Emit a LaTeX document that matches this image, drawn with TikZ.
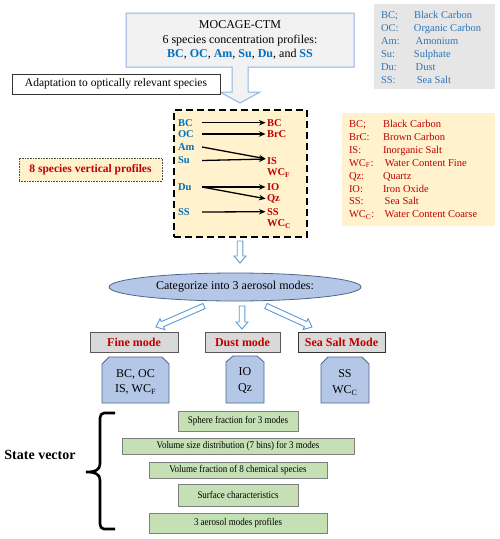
\documentclass[tikz,border=0pt]{standalone}
\usepackage{fontspec}
\setmainfont{Liberation Serif}
\newfontfamily\condfont[FakeStretch=0.88]{Liberation Serif}
\usetikzlibrary{arrows.meta,calc,shapes.geometric}
\definecolor{tblue}{HTML}{0070C0}
\definecolor{lblue}{HTML}{2E75B6}
\definecolor{tred}{HTML}{C00000}
\definecolor{cream}{HTML}{FFF2CC}
\definecolor{gfill}{HTML}{F2F2F2}
\definecolor{gborder}{HTML}{8EB4E3}
\definecolor{legray}{HTML}{E7E6E6}
\definecolor{modefill}{HTML}{B4C7E7}
\definecolor{modedraw}{HTML}{4A6790}
\definecolor{arrowblue}{HTML}{5B9BD5}
\definecolor{greenfill}{HTML}{C5E0B4}
\definecolor{greendraw}{HTML}{7F7F7F}
\definecolor{boxgray}{HTML}{D9D9D9}
\newcommand\spb[1]{\textcolor{tblue}{\textbf{#1}}}
\newcommand\hollowarrow[2]{%
  \path[draw=arrowblue,fill=white,line width=0.9pt,line join=miter]
    let \p1=(#1), \p2=(#2),
        \n1={atan2(\y2-\y1,\x2-\x1)},
        \n2={veclen(\x2-\x1,\y2-\y1)} in
    {[shift={(\p1)},rotate=\n1]
     (0pt,-2.8pt) -- (\n2-7pt,-2.8pt) -- (\n2-7pt,-6pt) -- (\n2,0pt)
     -- (\n2-7pt,6pt) -- (\n2-7pt,2.8pt) -- (0pt,2.8pt) -- cycle};}
\begin{document}
\begin{tikzpicture}[x=1pt,y=-1pt,
  every node/.style={inner sep=0pt, outer sep=0pt},
  blab/.style={anchor=west, text=tblue, font=\fontsize{10.5}{12}\selectfont\bfseries, text width=24pt},
  rlab/.style={anchor=west, text=tred, font=\fontsize{10.5}{12}\selectfont\bfseries},
  sparrow/.style={line width=1.3pt, -{Stealth[length=6.5pt,width=5.5pt]}, shorten >=1.5pt},
  modebox/.style={draw=gray!70!black, fill=boxgray, line width=0.8pt, minimum width=#1, minimum height=20pt, text=tred, font=\fontsize{12}{14}\selectfont\bfseries},
  greenbox/.style={draw=greendraw, fill=greenfill, line width=0.6pt, minimum width=#1, font=\condfont\fontsize{10.2}{11}\selectfont},
  snip/.style={draw=modedraw, fill=modefill, line width=0.8pt},
  sniptext/.style={align=center, font=\fontsize{12}{15.5}\selectfont}
]
\useasboundingbox (0,0) rectangle (500,539);

% MOCAGE callout
\draw[draw=gborder, fill=gfill, line width=1pt, line join=miter]
  (126,13) -- (354,13) -- (354,67) -- (248,67) -- (248,92) -- (260,92) -- (240,103)
  -- (220,92) -- (232,92) -- (232,67) -- (126,67) -- cycle;
\node[align=center, font=\fontsize{12}{14.5}\selectfont] (moc) at (240,40)
  {MOCAGE-CTM\\6 species concentration profiles:\\
   \spb{BC}, \spb{OC}, \spb{Am}, \spb{Su}, \spb{Du}, and \spb{SS}};

% gray legend
\fill[legray] (374,4) rectangle (495,89);
\node[anchor=north west, text=lblue, font=\fontsize{10.5}{13}\selectfont] (leg1) at (381,9)
  {\begin{tabular}{@{}p{33pt}@{}l@{}}
   BC; & Black Carbon\\
   OC: & Organic Carbon\\
   Am: & \,Amonium\\
   Su: & Sulphate\\
   Du: & \,Dust\\
   SS: & \;Sea Salt
   \end{tabular}};

% adaptation
\node[draw=black!80, fill=white, line width=0.8pt, minimum width=208pt, minimum height=20pt,
      font=\fontsize{11.5}{13}\selectfont] (adapt) at (116,84) {Adaptation to optically relevant species};

% right legend
\fill[cream] (342,113) rectangle (495,226);
\node[anchor=north west, text=tred, font=\fontsize{10.5}{12.9}\selectfont] (leg2) at (349,118.5)
  {\begin{tabular}{@{}p{34pt}@{}l@{}}
   BC; & Black Carbon\\
   BrC: & Brown Carbon\\
   IS: & Inorganic Salt\\
   WC\textsubscript{F}: & \,Water Content Fine\\
   Qz: & Quartz\\
   IO: & Iron Oxide\\
   SS: & \,Sea Salt\\
   WC\textsubscript{C}: & \,Water Content Coarse
   \end{tabular}};

% dashed species box
\node[draw=black, fill=cream, line width=2.5pt, dash pattern=on 7pt off 4pt,
      minimum width=133pt, minimum height=127pt] (sp) at (240.5,173.5) {};
\node[blab] (lBC) at (178,122.7) {BC};
\node[blab] (lOC) at (178,134) {OC};
\node[blab] (lAm) at (178,147) {Am};
\node[blab] (lSu) at (178,160.5) {Su};
\node[blab] (lDu) at (178,187) {Du};
\node[blab] (lSS) at (178,212) {SS};
\node[rlab] (rBC) at (267,122.7) {BC};
\node[rlab] (rBrC) at (267,134) {BrC};
\node[rlab] (rIS) at (267,161) {IS};
\node[rlab] (rWCF) at (267,173) {WC\textsubscript{F}};
\node[rlab] (rIO) at (267,187) {IO};
\node[rlab] (rQz) at (267,199) {Qz};
\node[rlab] (rSS) at (267,211.7) {SS};
\node[rlab] (rWCC) at (267,224) {WC\textsubscript{C}};
\draw[sparrow] (lBC.east) -- (rBC.west);
\draw[sparrow] (lOC.east) -- (rBrC.west);
\draw[sparrow] (lAm.east) -- ([yshift=2pt]rIS.west);
\draw[sparrow] (lSu.east) -- ([yshift=2pt]rIS.west);
\draw[sparrow] (lDu.east) -- (rIO.west);
\draw[sparrow] (lDu.east) -- (rQz.west);
\draw[sparrow] (lSS.east) -- (rSS.west);

% 8 species label
\node[draw=black!70, densely dotted, fill=cream, line width=0.6pt, minimum width=143pt, minimum height=23pt,
      text=tred, font=\fontsize{11.5}{13}\selectfont\bfseries] (eight) at (90.5,169.5) {8 species vertical profiles};

% ellipse
\node[ellipse, draw=modedraw, fill=modefill, line width=0.8pt, minimum width=252pt, minimum height=28pt,
      font=\fontsize{12}{14}\selectfont] (cat) at (235,287) {Categorize into 3 aerosol modes:};

% hollow arrows
\coordinate (a0s) at (240,241);
\coordinate (a0e) at (240,263);
\coordinate (a1s) at (204,306);
\coordinate (a1e) at (156,327);
\coordinate (a2s) at (242,306);
\coordinate (a2e) at (242,329);
\coordinate (a3s) at (266,306);
\coordinate (a3e) at (312,327);
\hollowarrow{a0s}{a0e}
\hollowarrow{a1s}{a1e}
\hollowarrow{a2s}{a2e}
\hollowarrow{a3s}{a3e}

% mode boxes
\node[modebox=88pt] (fine) at (134,342) {Fine mode};
\node[modebox=75pt] (dust) at (242.5,342) {Dust mode};
\node[modebox=87pt, draw=black!80] (seas) at (341.5,342) {Sea Salt Mode};

% snipped boxes
\draw[snip] (102,403) -- (102,364) -- (109,357) -- (162,357) -- (169,364) -- (169,403) -- cycle;
\node[sniptext] (fineS) at (135.5,382) {BC, OC\\IS, WC\textsubscript{F}};
\draw[snip] (226,403) -- (226,362) -- (233,356) -- (257,356) -- (264,362) -- (264,403) -- cycle;
\node[sniptext] (dustS) at (245,380.5) {IO\\Qz};
\draw[snip] (321,403) -- (321,364) -- (328,357) -- (362,357) -- (369,364) -- (369,403) -- cycle;
\node[sniptext] (seasS) at (345,382.5) {SS\\WC\textsubscript{C}};

% state vector
\node[font=\fontsize{14}{16}\selectfont\bfseries] (sv) at (40,455) {State vector};
\draw[line width=2.6pt] (115,413) -- (104,413) to[out=180,in=90] (100,418) -- (100,464)
  .. controls (100,470) and (95,472) .. (86,472)
  .. controls (95,472) and (100,474) .. (100,480) -- (100,524)
  to[out=-90,in=180] (104,529) -- (115,529);

% green boxes
\node[greenbox=120pt, minimum height=20pt] (g1) at (238,421) {Sphere fraction for 3 modes};
\node[greenbox=232pt, minimum height=16pt] (g2) at (238,446) {Volume size distribution (7 bins) for 3 modes};
\node[greenbox=178pt, minimum height=16pt] (g3) at (238,470) {Volume fraction of 8 chemical species};
\node[greenbox=120pt, minimum height=22pt] (g4) at (238,495) {Surface characteristics};
\node[greenbox=178pt, minimum height=20pt] (g5) at (238,523) {3 aerosol modes profiles};
\end{tikzpicture}
\end{document}
